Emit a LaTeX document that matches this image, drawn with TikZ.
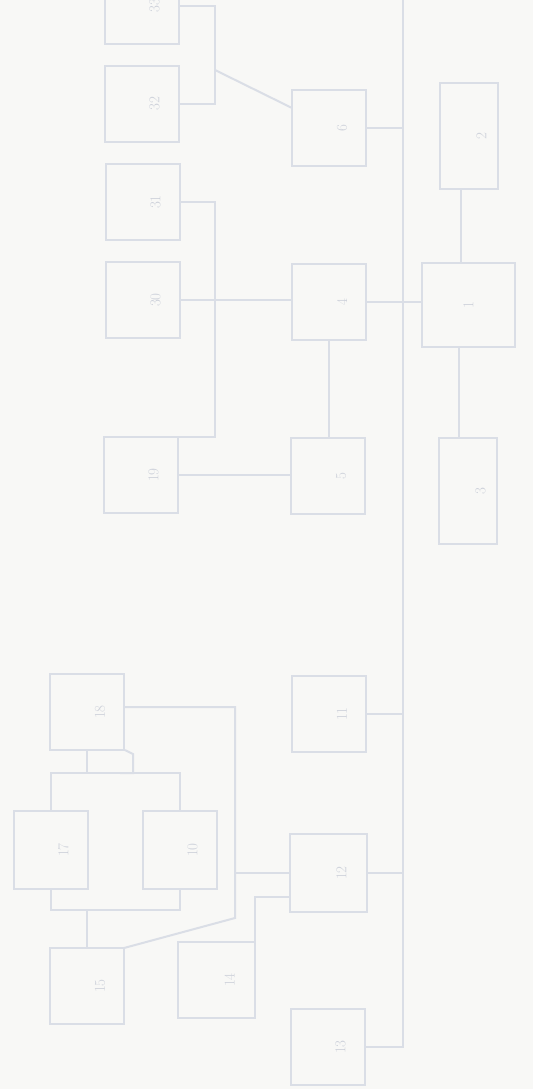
\documentclass[tikz,border=0pt]{standalone}
\usepackage{xcolor}
\usepackage{tikz}
\usetikzlibrary{positioning}

\definecolor{paper}{RGB}{248,248,246}
\definecolor{inkline}{RGB}{218,222,230}
\definecolor{inktext}{RGB}{205,209,218}
\newcommand{\bnum}[1]{\hspace*{26pt}\rotatebox{90}{#1}}

\begin{document}
\begin{tikzpicture}[
  x=1pt, y=-1pt,
  font=\fontsize{15}{18}\selectfont,
  blk/.style={draw=inkline, line width=2pt, inner sep=0pt, outer sep=0pt,
              text=inktext, minimum width=74pt, minimum height=76pt},
  tall/.style={blk, minimum width=58pt, minimum height=105pt},
  ln/.style={draw=inkline, line width=2pt}
]
\fill[paper] (0,0) rectangle (533,1089);
\useasboundingbox (0,0) rectangle (533,1089);

\node[blk] (n33) at (141.5,6) {\bnum{33}};
\node[blk] (n32) at (141.5,104) {\bnum{32}};
\node[blk] (n31) at (142.5,202) {\bnum{31}};
\node[blk] (n30) at (142.5,300) {\bnum{30}};
\node[blk] (n19) at (140.5,475) {\bnum{19}};
\node[blk] (n6) at (329,128) {\bnum{6}};
\node[blk] (n4) at (329,302) {\bnum{4}};
\node[blk] (n5) at (328,476) {\bnum{5}};
\node[tall, minimum height=106pt] (n2) at (468.5,136) {\bnum{2}};
\node[blk, minimum width=93pt, minimum height=84pt] (n1) at (468.5,305) {\rotatebox{90}{1}};
\node[tall, minimum height=106pt] (n3) at (467.5,491) {\bnum{3}};

\node[blk] (n18) at (87,712) {\bnum{18}};
\node[blk] (n11) at (329,714) {\bnum{11}};
\node[blk, minimum height=78pt] (n17) at (50.5,850) {\bnum{17}};
\node[blk, minimum height=78pt] (n10) at (179.5,850) {\bnum{10}};
\node[blk, minimum width=77pt, minimum height=78pt] (n12) at (328.5,873) {\bnum{12}};
\node[blk] (n15) at (87,986) {\bnum{15}};
\node[blk, minimum width=77pt] (n14) at (216.5,980) {\bnum{14}};
\node[blk] (n13) at (327.5,1047) {\bnum{13}};

\coordinate (bt) at (403,-5);
\coordinate (sx) at (215,0);
\coordinate (k6) at (215,70);
\coordinate (m1) at (235,918);
\coordinate (tb) at (120,773);
\coordinate (bb) at (120,910);

% bus
\draw[ln] (n13.east) -| (bt);
\draw[ln] (n6.east) -- (n6.east -| bt);
\draw[ln] (n4.east) -- (n4.east -| n1.west);
\draw[ln] (n11.east) -- (n11.east -| bt);
\draw[ln] (n12.east) -- (n12.east -| bt);

\draw[ln] (n33.east) -- (n33.east -| sx) |- (n32.east);
\draw[ln] (k6) -- ([yshift=20pt]n6.west);
\draw[ln] (n31.east) -- (n31.east -| sx) |- (n19.north east);
\draw[ln] (n30.east) -- (n30.east -| n4.west);
\draw[ln] (n19.east) -- (n19.east -| n5.west);
\draw[ln] (n4.south) -- (n4.south |- n5.north);
\draw[ln] ([xshift=-8pt]n2.south) -- ([xshift=-8pt]n2.south |- n1.north);
\draw[ln] ([xshift=-10pt]n1.south) -- ([xshift=-10pt]n1.south |- n3.north);

\draw[ln] ([yshift=5pt]n18.east) -| (m1) -- (n15.north east);
\draw[ln] (n12.west -| m1) -- (n12.west);
\draw[ln] ([yshift=-24pt]n12.west) -| (n14.north east);
\draw[ln] (n17.north) |- (tb) -| (n10.north);
\draw[ln] (n18.south) -- (n18.south |- tb);
\draw[ln] ([xshift=1pt]n18.south east) -- ++(8,4) |- (tb);
\draw[ln] (n17.south) |- (bb) -| (n10.south);
\draw[ln] (n15.north) -- (n15.north |- bb);
\end{tikzpicture}
\end{document}
